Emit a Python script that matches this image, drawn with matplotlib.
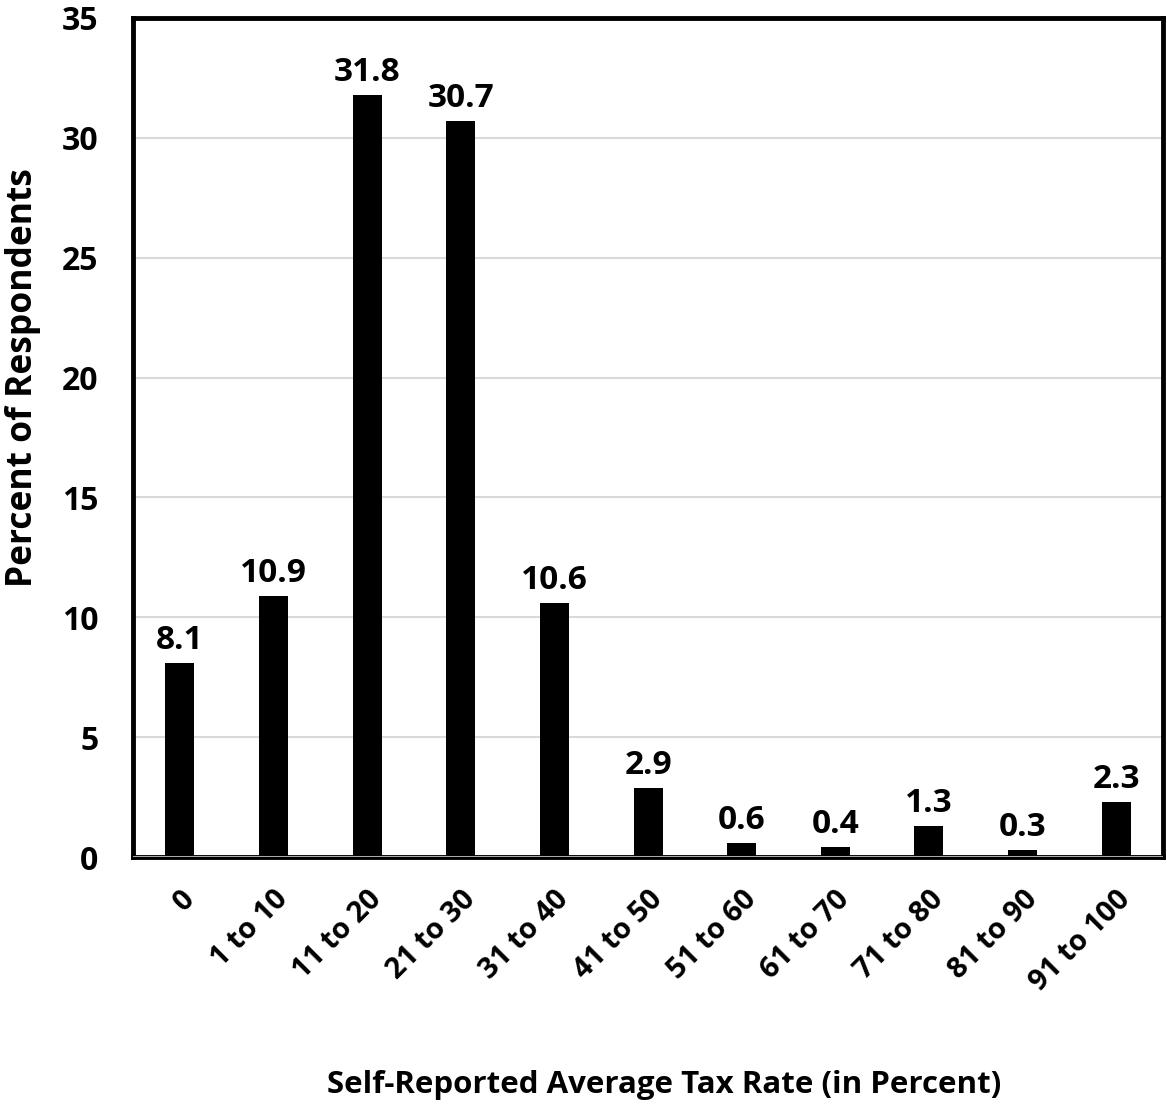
import matplotlib.pyplot as plt
import numpy as np

plt.rcParams['font.family'] = ['Open Sans', 'DejaVu Sans']
plt.rcParams['font.weight'] = 'bold'

categories = ['0', '1 to 10', '11 to 20', '21 to 30', '31 to 40', '41 to 50',
              '51 to 60', '61 to 70', '71 to 80', '81 to 90', '91 to 100']
percents = [8.1, 10.9, 31.8, 30.7, 10.6, 2.9, 0.6, 0.4, 1.3, 0.3, 2.3]

fig = plt.figure(figsize=(11.67, 11.11), dpi=100)
ax = fig.add_axes([0.1140, 0.2286, 0.8826, 0.7552])

x = np.arange(len(categories))
ax.bar(x, percents, width=0.31, color='black', zorder=3)

for xi, v in zip(x, percents):
    ax.text(xi, v + 0.25, '%.1f' % v, ha='center', va='bottom',
            fontsize=24, fontweight='bold')

ax.set_xlim(-0.5, len(categories) - 0.5)
ax.set_ylim(0, 35)
ax.set_yticks(np.arange(0, 36, 5))
ax.yaxis.grid(True, color='#d9d9d9', linewidth=1.5, zorder=0)
ax.axhline(0, color='#bfbfbf', linewidth=2, zorder=4)

ax.set_xticks(x)
ax.set_xticklabels(categories, rotation=45, ha='right', rotation_mode='anchor',
                   fontsize=21, fontweight='bold')
for lab in ax.get_yticklabels():
    lab.set_fontsize(23)
    lab.set_fontweight('bold')
ax.tick_params(axis='both', length=0)
ax.tick_params(axis='x', pad=20)
ax.tick_params(axis='y', pad=25)

for s in ax.spines.values():
    s.set_linewidth(3.5)
    s.set_color('black')

ax.set_ylabel('Percent of Respondents', fontsize=25.5, fontweight='bold')
ax.yaxis.set_label_coords(-0.089, 0.572)
ax.set_xlabel('Self-Reported Average Tax Rate (in Percent)', fontsize=22.5,
              fontweight='bold')
ax.xaxis.set_label_coords(0.516, -0.254)

fig.savefig('out.png', dpi=100)
